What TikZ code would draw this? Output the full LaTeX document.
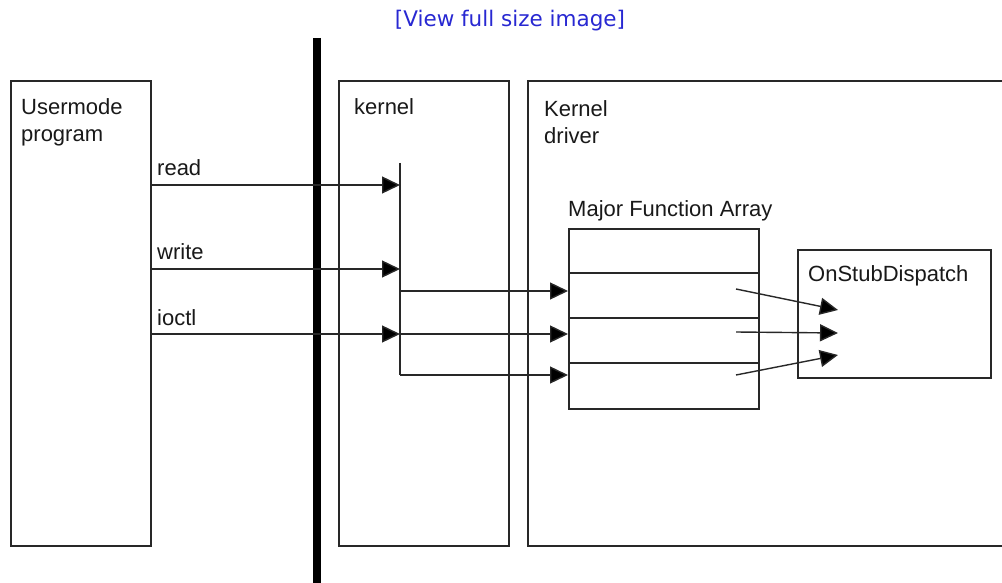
\documentclass[tikz,border=0pt]{standalone}
\usepackage{fontspec}
\setmainfont{Liberation Sans}
\newfontfamily\linkfont{DejaVu Sans}
\usetikzlibrary{arrows.meta}
\definecolor{linkblue}{RGB}{40,40,210}
\definecolor{ln}{RGB}{40,40,40}
\begin{document}
\begin{tikzpicture}[x=1pt,y=-1pt,
  box/.style={draw=ln,line width=1.6pt,anchor=north west,inner sep=0pt},
  txt/.style={anchor=base west,inner sep=0pt,font=\fontsize{22}{27}\selectfont,text=black!90},
  conn/.style={draw=ln,line width=1.4pt},
  arr/.style={conn,-{Triangle[length=18pt,width=17pt,fill=black]}}]
\useasboundingbox (0,0) rectangle (1002,583);
\fill[white] (0,0) rectangle (1002,583);
\node[anchor=base,inner sep=0pt,font=\linkfont\fontsize{21.5}{24}\selectfont,text=linkblue] (link) at (510,27) {[View full size image]};
% boxes
\node[box,minimum width=140pt,minimum height=465pt] (user) at (10,80) {};
\node[box,minimum width=170pt,minimum height=465pt] (kern) at (338,80) {};
\node[box,minimum width=480pt,minimum height=465pt] (drv) at (527,80) {};
\node[box,minimum width=190pt,minimum height=180pt] (mfa) at (568,228) {};
\node[box,minimum width=193pt,minimum height=128pt] (osd) at (797,249) {};
% thick barrier
\coordinate (bartop) at (317,38);
\coordinate (barbot) at (317,583);
\draw[line width=8pt] (bartop) -- (barbot);
% labels
\node[txt] (ulab) at (21,115) {Usermode};
\node[txt] (ulab2) at (21,142) {program};
\node[txt] (klab) at (354,115) {kernel};
\node[txt] (dlab) at (544,117) {Kernel};
\node[txt] (dlab2) at (544,144) {driver};
\node[txt] (mlab) at (568,216) {Major Function Array};
\node[txt] (olab) at (808,281) {OnStubDispatch};
\node[txt] (rlab) at (157,176) {read};
\node[txt] (wlab) at (157,259) {write};
\node[txt] (ilab) at (157,325) {ioctl};
% array dividers
\draw[conn] (mfa.west |- 0,273) -- (mfa.east |- 0,273);
\draw[conn] (mfa.west |- 0,318) -- (mfa.east |- 0,318);
\draw[conn] (mfa.west |- 0,363) -- (mfa.east |- 0,363);
% kernel dispatch line
\coordinate (ktop) at (400,163);
\coordinate (kbot) at (400,375);
\draw[conn] (ktop) -- (kbot);
% calls from user program
\draw[arr] (user.east |- 0,185) -- (400,185);
\draw[arr] (user.east |- 0,269) -- (400,269);
\draw[arr] (user.east |- 0,334) -- (400,334);
% kernel to array
\draw[arr] (400,291) -- (mfa.west |- 0,291);
\draw[arr] (400,334) -- (mfa.west |- 0,334);
\draw[arr] (kbot) -- (mfa.west |- 0,375);
% array to OnStubDispatch
\draw[arr] (736,289) -- (838,310);
\draw[arr] (736,332) -- (838,333);
\draw[arr] (736,375) -- (838,355);
\end{tikzpicture}
\end{document}
